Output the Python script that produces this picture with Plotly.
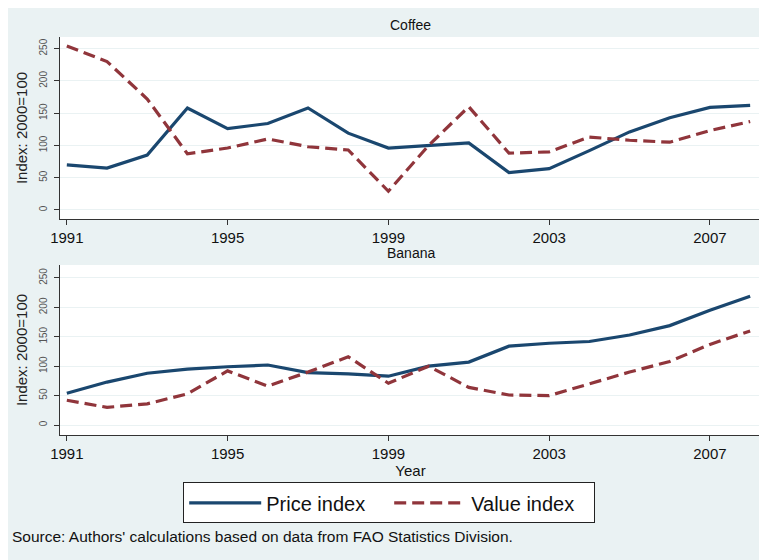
import plotly.graph_objects as go
from plotly.subplots import make_subplots

years = list(range(1991, 2009))

coffee_price = [70, 65, 85, 158, 126, 134, 158, 119, 96, 100, 104, 58, 64, 92, 121, 143, 159, 162]
coffee_value = [254, 230, 172, 87, 96, 110, 98, 93, 29, 100, 160, 88, 90, 113, 108, 105, 123, 137]

banana_price = [54, 73, 88, 95, 99, 102, 89, 87, 83, 100, 107, 134, 139, 142, 153, 169, 195, 219]
banana_value = [42, 30, 36, 53, 92, 66, 90, 116, 71, 100, 64, 51, 50, 70, 90, 108, 137, 160]

x_ticks = [1991, 1995, 1999, 2003, 2007]
y_ticks = [0, 50, 100, 150, 200, 250]

navy = "#1a476f"
maroon = "#90353b"
bg = "#eaf2f3"
font = "Liberation Sans Narrow, Arial Narrow, Liberation Sans, Arial, sans-serif"

fig = make_subplots(rows=2, cols=1)

panels = [(coffee_price, coffee_value, 1), (banana_price, banana_value, 2)]
for price, value, row in panels:
    fig.add_trace(go.Scatter(x=years, y=price, mode="lines", name="Price index",
                             line=dict(color=navy, width=3.2), showlegend=(row == 1)),
                  row=row, col=1)
    fig.add_trace(go.Scatter(x=years, y=value, mode="lines", name="Value index",
                             line=dict(color=maroon, width=3.2, dash="12px,6px"), showlegend=(row == 1)),
                  row=row, col=1)

# page body adds 8px offset, so margins are shifted to compensate
fig.update_layout(
    width=767, height=560,
    paper_bgcolor=bg, plot_bgcolor="white",
    margin=dict(l=52, r=14, t=29, b=133),
    font=dict(family=font, color="#111", size=13),
    xaxis=dict(domain=[0, 1]),
    yaxis=dict(domain=[0.5427, 1], range=[-14, 268]),
    yaxis2=dict(domain=[0, 0.4271], range=[-17, 272]),
    legend=dict(orientation="h", xref="container", yref="container",
                x=0.497, y=0.153, xanchor="center", yanchor="top",
                bgcolor="white", bordercolor="#222", borderwidth=1,
                entrywidth=118, itemwidth=72,
                font=dict(size=20, family=font), tracegroupgap=0),
    showlegend=True,
)

for r in (1, 2):
    fig.update_xaxes(row=r, col=1, range=[1990.83, 2008.27], tickvals=x_ticks,
                     ticks="outside", ticklen=5, tickcolor="#333", showgrid=False,
                     showline=True, linecolor="#333", linewidth=1, zeroline=False,
                     automargin=False, tickfont=dict(size=15, color="#111"))
    fig.update_yaxes(row=r, col=1, tickvals=y_ticks, tickangle=-90,
                     ticks="outside", ticklen=5, tickcolor="#333",
                     showgrid=True, gridcolor=bg, gridwidth=1,
                     showline=True, linecolor="#333", linewidth=1, zeroline=False,
                     automargin=False, ticklabelstandoff=3,
                     tickfont=dict(size=10, color="#555", family="Liberation Sans, Arial"),
                     title=dict(text="Index: 2000=100", standoff=6,
                                font=dict(size=15, family="Liberation Sans, Arial", color="#222")))

fig.update_xaxes(row=2, col=1, title=dict(text="Year", standoff=2, font=dict(size=15)))

fig.add_annotation(text="Coffee", xref="paper", yref="paper", x=0.5, y=1,
                   yanchor="bottom", yshift=2, showarrow=False, font=dict(size=14))
fig.add_annotation(text="Banana", xref="paper", yref="paper", x=0.5, y=0.4271,
                   yanchor="bottom", yshift=2, showarrow=False, font=dict(size=14))
fig.add_annotation(text="Source: Authors' calculations based on data from FAO Statistics Division.",
                   xref="paper", yref="paper", x=-0.0713, y=-0.256,
                   xanchor="left", yanchor="middle", showarrow=False,
                   font=dict(size=15.5, family=font))

fig.write_html("out.html")
